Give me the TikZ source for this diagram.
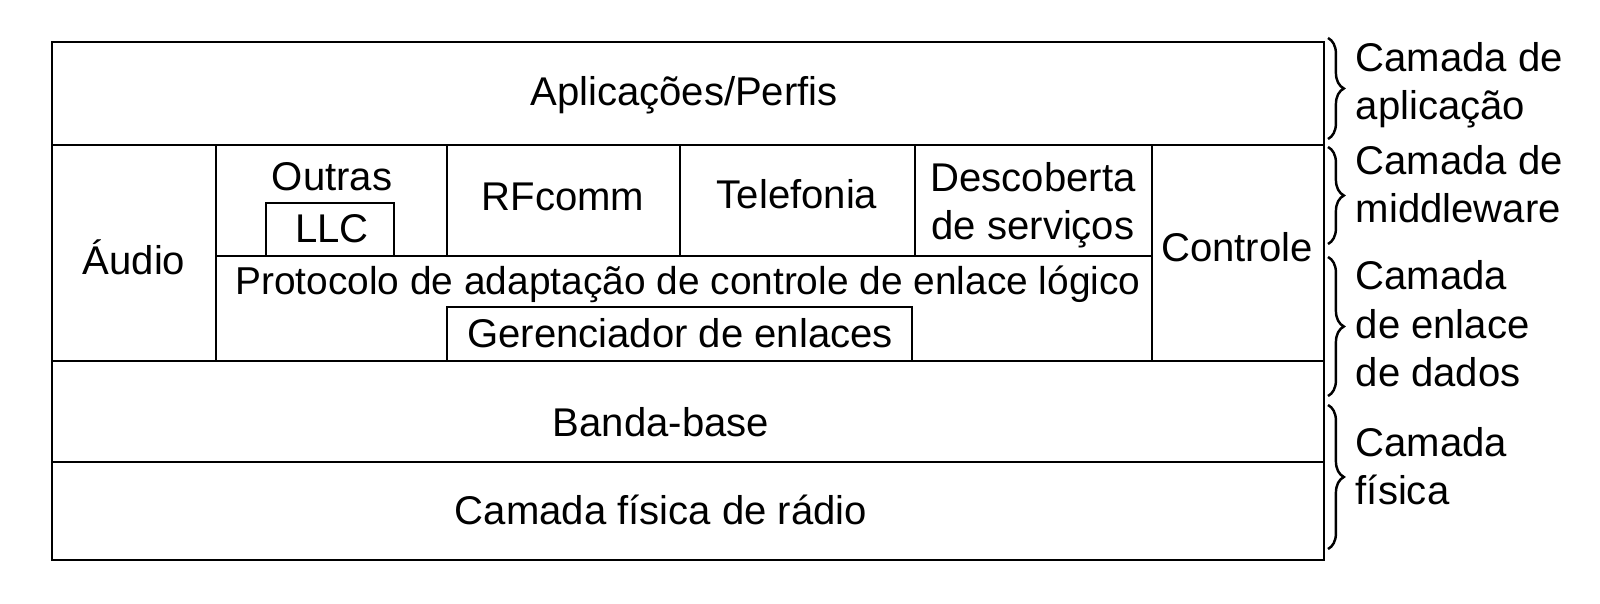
\documentclass[tikz,border=0pt]{standalone}
\usepackage{fontspec}
\setmainfont{Liberation Sans}
\usetikzlibrary{decorations.pathreplacing}

\begin{document}
\begin{tikzpicture}[x=0.01cm,y=-0.01cm,
  box/.style={line width=0.8pt},
  lbl/.style={font=\fontsize{11.4}{13.9}\selectfont,inner sep=0pt,anchor=base,align=center},
  side/.style={font=\fontsize{11.4}{13.9}\selectfont,inner sep=0pt,anchor=base west,align=left},
  layerbrace/.style={decorate,decoration={brace,amplitude=4.5pt},line width=0.7pt}]
  \useasboundingbox (0,0) rectangle (1600,604);

  % Outer frame and the full-width layers
  \draw[box] (52,42) rectangle (1324,560);
  \draw[box] (52,145) -- (1324,145);
  \draw[box] (52,361) -- (1324,361);
  \draw[box] (52,462) -- (1324,462);
  \node[lbl] (apps) at (684,106) {Aplicações/Perfis};
  \node[lbl] (banda) at (661,437) {Banda-base};
  \node[lbl] (radio) at (661,525) {Camada física de rádio};

  % Middle block: audio, protocols, control
  \draw[box] (216,145) -- (216,361);
  \draw[box] (1152,145) -- (1152,361);
  \draw[box] (216,256) -- (1152,256);
  \foreach \x in {447,680,915} {
    \draw[box] (\x,145) -- (\x,256);
  }
  \draw[box] (266,256) -- (266,203) -- (394,203) -- (394,256);
  \draw[box] (447,361) -- (447,307) -- (912,307) -- (912,361);
  \node[lbl] (audio) at (134,275) {Áudio};
  \node[lbl] (outras) at (332,191) {Outras};
  \node[lbl] (llc) at (332,243) {LLC};
  \node[lbl] (rfcomm) at (563,211) {RFcomm};
  \node[lbl] (tel) at (797,209) {Telefonia};
  \node[lbl] (sdp) at (1033,240) {Descoberta\\de serviços};
  \node[lbl] (ctrl) at (1237,262) {Controle};
  \node[lbl,font=\fontsize{11.05}{13.9}\selectfont] (l2cap) at (688,295) {Protocolo de adaptação de controle de enlace lógico};
  \node[lbl] (lmp) at (680,348) {Gerenciador de enlaces};

  % Right: layer braces
  \draw[layerbrace] (1328,38) -- (1328,139);
  \draw[layerbrace] (1328,147) -- (1328,244);
  \draw[layerbrace] (1328,257) -- (1328,396);
  \draw[layerbrace] (1328,405) -- (1328,549);
  \node[side] (app) at (1355,120) {Camada de\\aplicação};
  \node[side] (mid) at (1355,223) {Camada de\\middleware};
  \node[side] (link) at (1355,387) {Camada\\de enlace\\de dados};
  \node[side] (phy) at (1355,505) {Camada\\física};
\end{tikzpicture}
\end{document}
